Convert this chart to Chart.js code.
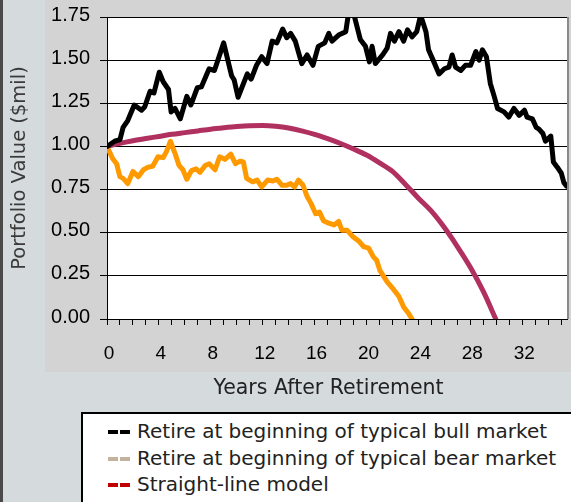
<!DOCTYPE html>
<html><head><meta charset="utf-8">
<script src="https://cdn.jsdelivr.net/npm/chart.js@4/dist/chart.umd.min.js"></script>
<style>
html,body{margin:0;padding:0;background:#D5DBDC;overflow:hidden}
#wrap{position:relative;width:571px;height:502px;overflow:hidden}
#c{position:absolute;left:0;top:0}
#legend{position:absolute;left:81px;top:412px;width:540px;height:130px;background:#fff;border:2px solid #000;box-sizing:border-box;font-family:"DejaVu Sans";font-size:20px;color:#222}
.row{position:absolute;left:25px;height:26px;line-height:26px;white-space:nowrap}
.mk{display:inline-block;width:10px;height:4px;margin-right:2px;vertical-align:middle;position:relative;top:-1px}
.txt{margin-left:5px}
</style>
</head><body>
<div id="wrap">
<canvas id="c" width="571" height="502"></canvas>
<div id="legend"></div>
</div>
<script>
// ---- data (years after retirement, portfolio value in $ millions) ----
const bullYears = [0,0.59,1.0,1.24,1.6,2.1,2.66,2.91,3.32,3.62,4.03,4.33,4.74,4.94,5.24,5.65,6.15,6.46,6.96,7.27,7.87,8.28,8.99,9.6,9.8,10.1,10.81,11.11,11.52,11.92,12.33,12.73,13.09,13.54,13.85,14.15,14.51,15.01,15.42,15.87,16.28,16.78,17.09,17.34,17.85,18.4,18.61,19.01,19.52,19.92,20.22,20.43,20.68,21.24,21.59,21.85,22.15,22.5,22.86,23.16,23.51,23.87,24.17,24.58,24.78,25.19,25.59,26.0,26.35,26.6,26.86,27.26,27.62,28.02,28.43,28.68,28.93,29.24,29.54,29.84,30.1,30.6,30.96,31.36,31.77,32.17,32.37,32.78,33.08,33.29,33.59,33.79,34.2,34.4,34.7,35.01,35.21,35.42];
const bullValues = [1.00,1.03,1.04,1.11,1.15,1.24,1.21,1.23,1.32,1.31,1.43,1.375,1.33,1.20,1.22,1.16,1.29,1.24,1.34,1.345,1.45,1.44,1.60,1.41,1.385,1.285,1.42,1.39,1.47,1.52,1.48,1.61,1.60,1.68,1.63,1.655,1.61,1.48,1.53,1.47,1.58,1.60,1.655,1.61,1.645,1.665,1.77,1.77,1.62,1.58,1.49,1.58,1.48,1.53,1.57,1.655,1.61,1.665,1.61,1.675,1.635,1.665,1.76,1.665,1.56,1.49,1.42,1.45,1.46,1.53,1.46,1.44,1.47,1.47,1.55,1.50,1.56,1.52,1.365,1.29,1.22,1.20,1.17,1.22,1.18,1.21,1.17,1.16,1.11,1.10,1.075,1.03,1.06,0.91,0.88,0.845,0.79,0.77];

const bearYears = [0,0.43,0.74,0.99,1.24,1.6,2.0,2.41,2.81,3.17,3.52,3.93,4.33,4.58,4.89,5.24,5.55,5.85,6.15,6.51,6.86,7.17,7.57,7.87,8.33,8.68,9.09,9.54,9.9,10.25,10.51,10.76,11.22,11.57,11.92,12.38,12.78,13.09,13.49,13.85,14.15,14.45,14.76,15.11,15.42,15.72,16.08,16.38,16.68,17.09,17.49,17.85,18.1,18.5,18.91,19.42,19.77,20.17,20.53,20.78,21.04,21.59,22.1,22.5,22.86,23.26,23.51];
const bearValues = [1.00,0.93,0.90,0.825,0.815,0.785,0.855,0.825,0.865,0.88,0.885,0.94,0.935,0.97,1.03,0.96,0.89,0.865,0.81,0.86,0.87,0.85,0.89,0.90,0.865,0.94,0.925,0.955,0.90,0.915,0.91,0.815,0.795,0.805,0.765,0.805,0.80,0.81,0.775,0.775,0.785,0.765,0.805,0.775,0.71,0.67,0.61,0.62,0.57,0.555,0.545,0.565,0.515,0.515,0.48,0.45,0.42,0.41,0.36,0.34,0.28,0.215,0.17,0.13,0.07,0.03,0.00];

const modelYears = [0,1,2,3,4,5,6,7,8,9,10,11,12,13,14,15,16,17,18,19,20,21,22,23,24,25,26,27,28,29,29.96];
const modelValues = [1.00,1.018,1.033,1.046,1.058,1.07,1.08,1.09,1.10,1.108,1.115,1.12,1.121,1.117,1.107,1.09,1.07,1.045,1.017,0.985,0.95,0.905,0.855,0.78,0.70,0.625,0.53,0.42,0.30,0.16,0.0];

const seriesNames = ['Retire at beginning of typical bull market','Retire at beginning of typical bear market','Straight-line model'];
const xTickLabels = ['0','4','8','12','16','20','24','28','32'];
const yTickLabels = ['0.00','0.25','0.50','0.75','1.00','1.25','1.50','1.75'];
const xTitle = 'Years After Retirement';
const yTitle = 'Portfolio Value ($mil)';

// ---- styles ----
const lineColors = ['#000000','#FF9900','#B0305F'];
const legendColors = ['#000000','#C4B39C','#C00000'];

function pts(xs, ys){ return xs.map((x,i)=>({x:x, y:ys[i]})); }

const bgPlugin = {
  id:'bg',
  beforeDraw(chart){
    const ctx = chart.ctx, a = chart.chartArea;
    ctx.save();
    ctx.fillStyle = '#D5DBDC'; ctx.fillRect(0,0,chart.width,chart.height);
    ctx.fillStyle = '#D3D3D3'; ctx.fillRect(45,0,chart.width-45,372);
    ctx.fillStyle = '#4a4a4a'; ctx.fillRect(0,0,3,chart.height);
    ctx.fillStyle = '#ffffff'; ctx.fillRect(a.left,a.top,a.right-a.left,a.bottom-a.top);
    ctx.restore();
  },
  beforeDatasetsDraw(chart){
    const ctx = chart.ctx, a = chart.chartArea;
    ctx.save();
    ctx.strokeStyle = '#8a8a8a'; ctx.lineWidth = 2;
    ctx.beginPath(); ctx.moveTo(a.right+1, a.top); ctx.lineTo(a.right+1, a.bottom); ctx.stroke();
    ctx.restore();
  },
  afterDraw(chart){
    const ctx = chart.ctx;
    ctx.save();
    ctx.fillStyle = '#222';
    ctx.font = '20.5px "DejaVu Sans"';
    ctx.textAlign = 'center'; ctx.textBaseline = 'middle';
    ctx.fillText(xTitle, 328.5, 388.5);
    ctx.restore();
  }
};

new Chart(document.getElementById('c'), {
  type:'line',
  data:{
    datasets:[
      {label:seriesNames[0], data:pts(bullYears,bullValues), borderColor:lineColors[0], clip:0},
      {label:seriesNames[2], data:pts(modelYears,modelValues), borderColor:lineColors[2], cubicInterpolationMode:'monotone', clip:0},
      {label:seriesNames[1], data:pts(bearYears,bearValues), borderColor:lineColors[1], clip:0}
    ]
  },
  options:{
    responsive:false, animation:false, devicePixelRatio:1,
    layout:{padding:{top:17,right:4,left:0,bottom:0}},
    plugins:{legend:{display:false}, tooltip:{enabled:false}},
    elements:{point:{radius:0}, line:{borderWidth:5, borderJoinStyle:'round', borderCapStyle:'round', tension:0, fill:false}},
    scales:{
      x:{
        type:'linear', min:0, max:35.45,
        afterBuildTicks(s){ const t=[]; for(let v=0; v<=35; v++) t.push({value:v}); s.ticks=t; },
        ticks:{autoSkip:false, maxRotation:0, padding:17, labelOffset:2, color:'#000',
          font:{family:'Liberation Sans', size:19},
          callback:(v)=> xTickLabels.includes(String(v)) ? String(v) : ''},
        grid:{drawOnChartArea:false, drawTicks:true, tickLength:6, color:'#000', lineWidth:1},
        border:{display:true, color:'#000', width:1},
        title:{display:false},
        afterFit(s){ s.height = 183; s.paddingLeft = 0; s.paddingRight = 0; }
      },
      y:{
        type:'linear', min:0, max:1.75,
        afterBuildTicks(s){ s.ticks = yTickLabels.map(l=>({value:parseFloat(l)})); },
        ticks:{padding:10, labelOffset:-2, color:'#000', font:{family:'Liberation Sans', size:20},
          callback:(v,i)=> yTickLabels[i]},
        grid:{color:'#000', lineWidth:1, tickLength:7, drawTicks:true},
        border:{display:true, color:'#000', width:1},
        title:{display:true, text:yTitle, color:'#3a3a3a', font:{family:'DejaVu Sans', size:19.5}, padding:{top:8,bottom:0}},
        afterFit(s){ s.width = 107; s.paddingTop = 0; s.paddingBottom = 0; }
      }
    }
  },
  plugins:[bgPlugin]
});

// ---- legend ----
const leg = document.getElementById('legend');
const rowTops = [4,31,57];
seriesNames.forEach((n,i)=>{
  const r = document.createElement('div');
  r.className='row'; r.style.top = rowTops[i]+'px';
  r.innerHTML = '<span class="mk" style="background:'+legendColors[i]+'"></span><span class="mk" style="background:'+legendColors[i]+'"></span><span class="txt"></span>';
  r.querySelector('.txt').textContent = n;
  leg.appendChild(r);
});
</script>
</body></html>
